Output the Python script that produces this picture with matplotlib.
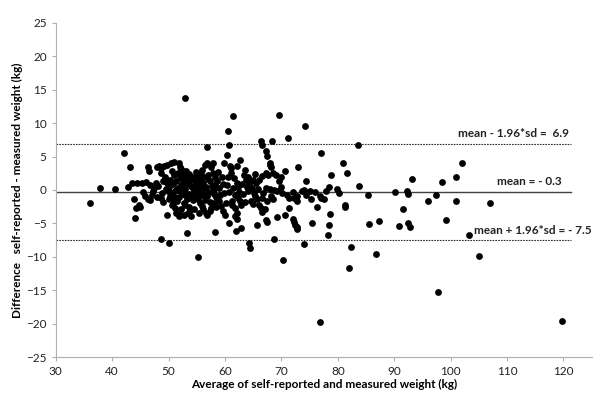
import matplotlib.pyplot as plt

# Bland-Altman: self-reported vs measured weight (kg)
# points as (average, difference)
pts_left = [
    (36.0, -2.0), (37.8, 0.3), (40.5, 0.1), (42.2, 5.6), (43.2, 3.5),
    (42.9, 0.4), (43.6, 1.1), (44.5, 1.1), (45.3, 1.1), (43.8, -1.4),
    (44.0, -4.2), (44.2, -2.7), (44.7, -2.3), (45.0, -2.5), (45.4, -0.3),
    (45.8, -0.9), (46.3, -1.3), (46.3, 3.5), (46.5, 2.8), (46.0, 1.2),
    (46.8, 0.8), (47.3, -0.2), (47.0, -0.7), (47.7, 1.0), (47.5, 0.3),
    (48.0, 3.5), (48.3, 3.6), (48.6, 3.3), (48.7, 2.5), (49.0, 1.3),
    (49.4, 2.0), (49.2, 3.6), (49.7, 3.8), (50.4, 4.0), (50.9, 4.2),
    (51.8, 4.0), (52.1, 3.4), (52.5, 2.8), (48.7, -1.2), (50.1, -1.4),
    (50.6, -2.2), (51.1, -2.7), (51.4, -3.4), (51.8, -3.9), (52.1, -3.8),
    (52.8, -3.7), (53.4, -3.4), (53.8, -3.0), (49.8, -3.7), (48.7, -7.3),
    (50.0, -8.0), (53.2, -6.4), (55.2, -10.1), (53.0, 13.8), (48.2, 0.6),
    (48.9, -0.4), (49.5, 0.2), (47.9, -1.0), (49.1, -1.8), (46.8, -1.5),
]

# dense core of the cloud
pts_core = [
    (50.0, 0.5), (50.3, 1.5), (50.5, -0.5), (50.8, 0.9), (51.0, 2.2),
    (51.2, -0.2), (51.4, 1.3), (51.6, 0.3), (51.8, -1.0), (52.0, 1.8),
    (52.2, 0.8), (52.4, -0.4), (52.6, 2.4), (52.8, 1.5), (53.0, 0.2),
    (53.2, -1.3), (53.4, 1.9), (53.5, 1.0), (53.7, -0.6), (53.9, 0.6),
    (54.1, 2.0), (54.2, 0.5), (54.4, -1.5), (54.5, -0.2), (54.7, 1.3),
    (54.9, -0.9), (55.0, 2.1), (55.2, -1.4), (55.3, 0.4), (55.5, -1.9),
    (55.6, 1.6), (55.8, 0.0), (55.9, -2.4), (56.0, 3.0), (56.1, 1.0),
    (56.2, -2.9), (56.3, -0.6), (56.4, 3.8), (56.6, -3.4), (56.7, 0.5),
    (56.9, 4.0), (56.9, -3.8), (57.0, 2.2), (57.3, -3.2), (57.4, 1.3),
    (57.6, -2.7), (57.8, 2.5), (57.9, 4.1), (58.0, -2.0), (58.1, 0.2),
    (58.3, 2.0), (58.3, 0.8), (58.5, -1.1), (58.6, 1.3), (59.0, 0.3),
    (59.3, -2.4), (59.6, -3.1), (59.9, 4.0), (60.0, -3.7), (50.2, -0.9),
    (51.5, -1.7), (52.7, -2.0), (53.6, -2.5), (54.0, -3.9), (54.6, -2.9),
    (55.4, -3.5), (57.5, 3.5), (58.9, -1.6), (59.5, 1.9), (59.8, -0.4),
    (52.3, 3.1), (53.1, 2.8), (54.8, 2.7), (55.7, 2.4), (51.3, 0.0),
    (52.9, -0.8), (56.5, -1.5), (57.2, -0.3), (55.1, 0.9), (53.3, 0.9),
    (50.6, 2.8), (51.0, -1.1), (51.7, 2.5), (52.1, -0.1), (52.5, 1.1),
    (53.0, -2.2), (53.6, 2.4), (53.8, 1.5), (54.0, -0.8), (54.3, 1.6),
    (54.6, 0.1), (55.0, -0.4), (55.2, 1.4), (55.6, 0.7), (55.9, -0.8),
    (56.2, 2.0), (56.5, 0.3), (56.8, -0.9), (57.0, 1.6), (57.4, -1.8),
    (57.7, 0.6), (58.0, -0.6), (58.4, -2.6), (58.8, 2.7), (59.2, -0.8),
    (59.6, 0.9), (50.9, -1.8), (52.3, -2.9), (49.7, 1.1), (49.9, -0.2),
]

pts_mid = [
    (56.9, 6.5), (60.3, 5.3), (60.7, 6.8), (60.5, 8.8), (61.5, 11.0),
    (60.9, 3.6), (61.0, 3.3), (61.0, 2.5), (61.6, 1.8), (62.1, 1.1),
    (62.4, 0.5), (61.8, -0.7), (62.3, -1.2), (62.6, -1.7), (62.9, -2.2),
    (61.8, -2.7), (62.1, -3.4), (61.7, -3.9), (62.2, -4.3), (62.1, 3.6),
    (62.7, 4.5), (63.4, 2.3), (63.8, 1.5), (64.3, 0.9), (64.8, 0.3),
    (65.1, -0.4), (65.3, -0.9), (65.7, -1.4), (66.0, -2.2), (66.4, -2.7),
    (66.6, -3.3), (64.5, 1.3), (65.0, 1.5), (65.5, 1.0), (66.0, 1.5),
    (66.5, 2.1), (67.2, 2.5), (67.7, 2.3), (68.6, 2.5), (67.9, 4.0),
    (68.2, 3.5), (69.1, 2.3), (69.6, 1.3), (69.9, 0.5), (70.6, 2.8),
    (71.0, -0.7), (71.3, -1.2), (67.2, 0.3), (67.9, 0.1), (68.7, 0.0),
    (69.2, -0.2), (68.2, -0.9), (68.6, -1.4), (67.5, -1.7), (66.5, -1.2),
    (67.1, -2.8), (60.7, -5.0), (62.0, -6.2), (62.8, -5.7), (64.2, -8.0),
    (64.5, -8.7), (65.7, -5.3), (66.4, 7.3), (66.5, 6.8), (67.3, 5.8),
    (67.5, 5.1), (68.0, 3.8), (68.4, 7.3), (67.3, -4.5), (67.5, -4.8),
    (68.7, -7.3), (69.2, -4.1), (69.5, 11.2), (70.3, -10.5), (70.7, -3.7),
    (71.2, 7.8), (71.3, -2.7), (72.0, -4.4), (72.3, -4.8), (72.5, -5.2),
    (72.7, -5.5), (72.8, -5.8), (72.7, -1.7), (73.0, 3.5), (58.2, -6.3),
    (60.4, 0.8), (60.8, -0.3), (61.2, -1.6), (60.6, 1.9), (63.2, -0.6),
    (63.6, -1.8), (64.0, -0.2), (64.6, -1.6), (63.0, 0.9), (65.9, 0.2),
    (60.2, -2.0), (61.4, 0.3), (63.5, 3.0), (64.1, 2.0), (66.8, -0.4),
    (70.2, -0.5), (70.0, 1.9), (72.0, -0.3), (72.3, -1.2), (72.8, -0.9),
    (62.5, -0.3), (63.9, 0.4), (61.3, -2.3), (64.9, -2.1), (65.4, 2.4),
]

pts_right = [
    (73.7, -0.2), (74.0, 0.0), (74.4, -0.7), (74.3, 1.4), (74.2, 9.6),
    (74.0, -8.1), (75.1, -0.2), (75.3, -1.4), (75.5, -4.9), (76.0, -0.3),
    (76.3, -2.6), (76.8, -0.9), (76.8, -19.7), (77.1, 5.6), (77.1, -1.2),
    (77.6, -1.4), (78.0, -0.2), (78.3, -6.7), (78.5, -5.2), (78.7, -3.6),
    (78.8, 2.3), (78.5, 0.5), (79.8, 0.1), (80.2, -0.5), (81.0, 4.1),
    (81.2, -2.3), (81.3, -2.5), (81.7, 2.6), (81.9, -11.7), (82.3, -8.6),
    (83.6, 6.8), (83.7, 0.6), (85.3, -0.7), (85.5, -5.1), (86.8, -9.6),
    (87.3, -4.6), (90.2, -0.3), (90.8, -5.4), (91.5, -2.8), (92.2, -0.2),
    (92.4, -0.6), (92.5, -5.0), (92.8, -5.6), (93.1, 1.7), (96.0, -1.7),
    (97.4, -0.7), (97.7, -15.3), (98.4, 1.2), (99.2, -4.5), (100.9, 2.0),
    (100.9, -1.7), (102.0, 4.0), (103.3, -6.7), (105.0, -9.9), (107.0, -1.9),
    (119.8, -19.6),
]

mean_diff = -0.3
upper_loa = 6.9
lower_loa = -7.5

pts = pts_left + pts_core + pts_mid + pts_right
avg = [p[0] for p in pts]
diff = [p[1] for p in pts]

plt.rcParams['font.family'] = ['Lato', 'DejaVu Sans']

fig = plt.figure(figsize=(6.05, 3.95), dpi=100)
ax = fig.add_axes([0.092, 0.096, 0.886, 0.846])

ax.scatter(avg, diff, s=24, color='black', zorder=3, linewidths=0)

# mean and limits of agreement
ax.plot([30, 121.3], [mean_diff, mean_diff], color='#404040', lw=1.0, zorder=2)
ax.plot([30, 121.3], [upper_loa, upper_loa], color='#303030', lw=0.8, ls=(0, (1.5, 1)), zorder=2)
ax.plot([30, 121.3], [lower_loa, lower_loa], color='#303030', lw=0.8, ls=(0, (1.5, 1)), zorder=2)

ax.text(121.0, 7.6, 'mean - 1.96*sd =  %.1f' % upper_loa, ha='right', va='bottom',
        fontsize=8.5, fontweight='bold', color='#222222')
ax.text(119.6, 0.4, 'mean = - %.1f' % abs(mean_diff), ha='right', va='bottom',
        fontsize=8.5, fontweight='bold', color='#222222')
ax.text(104.2, -6.9, 'mean + 1.96*sd = - %.1f' % abs(lower_loa), ha='left', va='bottom',
        fontsize=8.5, fontweight='bold', color='#222222')

ax.set_xlim(30, 125)
ax.set_ylim(-25, 25)
ax.set_xticks(range(30, 121, 10))
ax.set_yticks(range(-25, 26, 5))

for s in ['top', 'right']:
    ax.spines[s].set_visible(False)
for s in ['left', 'bottom']:
    ax.spines[s].set_color('#b0b0b0')
    ax.spines[s].set_linewidth(0.8)
ax.tick_params(axis='both', colors='#b0b0b0', length=3, width=0.8,
               labelsize=8.5, labelcolor='#222222')

ax.set_xlabel('Average of self-reported and measured weight (kg)',
              fontsize=8.5, fontweight='bold', labelpad=1)
ax.set_ylabel('Difference   self-reported - measured weight (kg)',
              fontsize=8.5, fontweight='bold', labelpad=2)

fig.savefig('out.png', dpi=100)
